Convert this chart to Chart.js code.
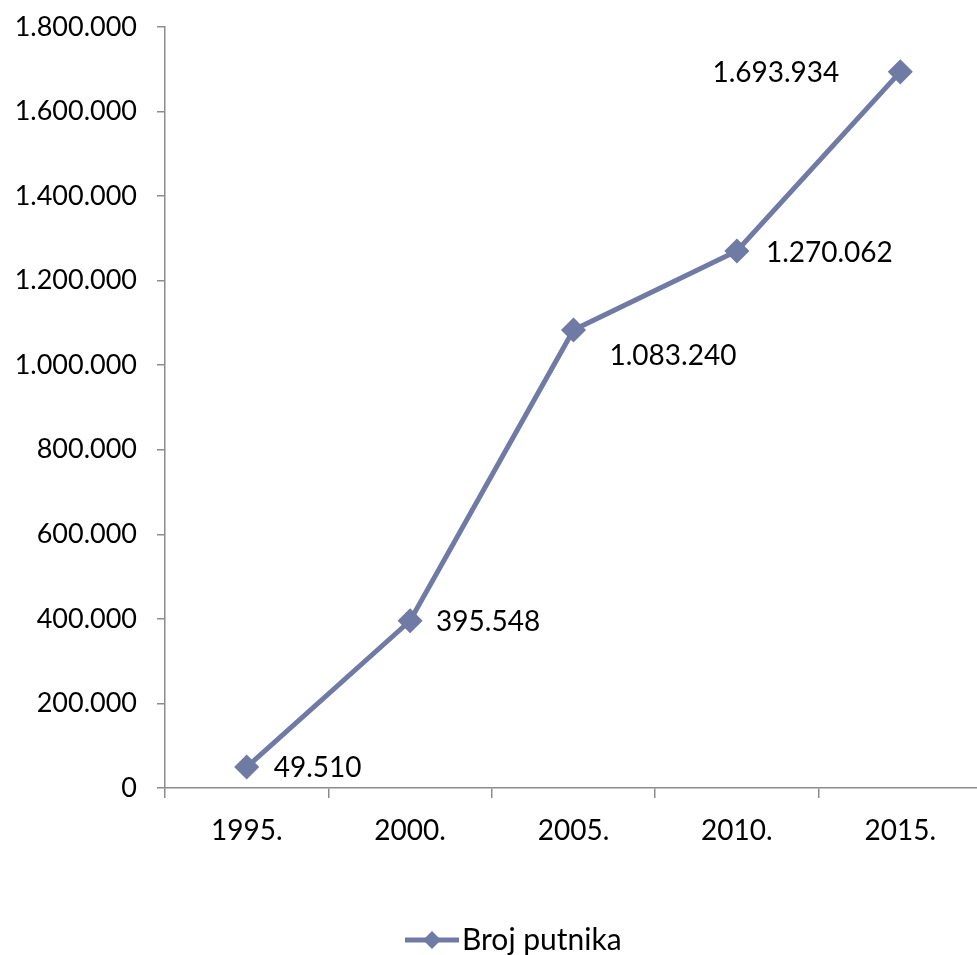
<!DOCTYPE html>
<html>
<head>
<meta charset="utf-8">
<script src="https://cdn.jsdelivr.net/npm/chart.js@4.4.1/dist/chart.umd.min.js"></script>
<style>
  html, body { margin: 0; padding: 0; background: #fff; overflow: hidden; }
  #wrap { position: relative; width: 996px; height: 955px; }
</style>
</head>
<body>
<div id="wrap"><canvas id="c"></canvas></div>
<script>
// Passenger counts by year
const years = ['1995.', '2000.', '2005.', '2010.', '2015.'];
const passengers = [49510, 395548, 1083240, 1270062, 1693934];
const seriesName = 'Broj putnika';
const yTicks = [0, 200000, 400000, 600000, 800000, 1000000, 1200000, 1400000, 1600000, 1800000];

const LINE = '#6F7AA5';
const AXIS = '#8C8C8C';
const FONT = 'Lato, "Open Sans", sans-serif';
const FS = 28;

// Thousands separated with dots
const fmt = v => String(Math.round(v)).replace(/\B(?=(\d{3})+(?!\d))/g, '.');

// Label placement relative to each point: [dx, dy, align]
const labelPlace = [
  [27, 1, 'left'],
  [26, 1, 'left'],
  [36, 26, 'left'],
  [29, 2, 'left'],
  [-61, 1, 'right']
];

const valueLabels = {
  id: 'valueLabels',
  afterDatasetsDraw(chart) {
    const ctx = chart.ctx;
    const meta = chart.getDatasetMeta(0);
    ctx.save();
    ctx.font = FS + 'px ' + FONT;
    ctx.fillStyle = '#000';
    ctx.textBaseline = 'middle';
    meta.data.forEach((pt, i) => {
      const p = labelPlace[i];
      ctx.textAlign = p[2];
      ctx.fillText(fmt(chart.data.datasets[0].data[i]), pt.x + p[0], pt.y + p[1]);
    });
    ctx.restore();
  }
};

const legendLine = {
  id: 'legendLine',
  afterDraw(chart) {
    const ctx = chart.ctx;
    const y = 940;
    ctx.save();
    ctx.strokeStyle = LINE;
    ctx.lineWidth = 5;
    ctx.beginPath();
    ctx.moveTo(405, y);
    ctx.lineTo(459, y);
    ctx.stroke();
    ctx.fillStyle = LINE;
    ctx.beginPath();
    ctx.moveTo(432, y - 9);
    ctx.lineTo(441, y);
    ctx.lineTo(432, y + 9);
    ctx.lineTo(423, y);
    ctx.closePath();
    ctx.fill();
    ctx.font = '30px ' + FONT;
    ctx.fillStyle = '#000';
    ctx.textAlign = 'left';
    ctx.textBaseline = 'middle';
    ctx.fillText(chart.data.datasets[0].label, 462, y);
    ctx.restore();
  }
};

new Chart(document.getElementById('c'), {
  type: 'line',
  data: {
    labels: years,
    datasets: [{
      label: seriesName,
      data: passengers,
      borderColor: LINE,
      backgroundColor: LINE,
      borderWidth: 5,
      pointStyle: 'rectRot',
      pointRadius: 9,
      pointHoverRadius: 9,
      tension: 0
    }]
  },
  options: {
    responsive: true,
    maintainAspectRatio: false,
    animation: false,
    events: [],
    layout: { padding: { top: 27, right: 0, bottom: 0, left: 0 } },
    plugins: { legend: { display: false }, tooltip: { enabled: false } },
    scales: {
      x: {
        offset: true,
        grid: { drawOnChartArea: false, drawTicks: true, tickLength: 10, color: AXIS, lineWidth: 1.5, offset: true },
        border: { color: AXIS, width: 1.5 },
        ticks: { color: '#000', font: { family: FONT, size: FS }, padding: 16, maxRotation: 0 },
        afterFit(s) { s.height = 955 - 788; }
      },
      y: {
        min: 0,
        max: 1800000,
        afterBuildTicks(s) { s.ticks = yTicks.map(v => ({ value: v })); },
        grid: { drawOnChartArea: false, drawTicks: true, tickLength: 8, color: AXIS, lineWidth: 1.5 },
        border: { color: AXIS, width: 1.5 },
        ticks: { color: '#000', font: { family: FONT, size: 27 }, padding: 20, callback: v => fmt(v) },
        afterFit(s) { s.width = 165; s.paddingTop = 0; s.paddingBottom = 0; }
      }
    }
  },
  plugins: [valueLabels, legendLine]
});
</script>
</body>
</html>
